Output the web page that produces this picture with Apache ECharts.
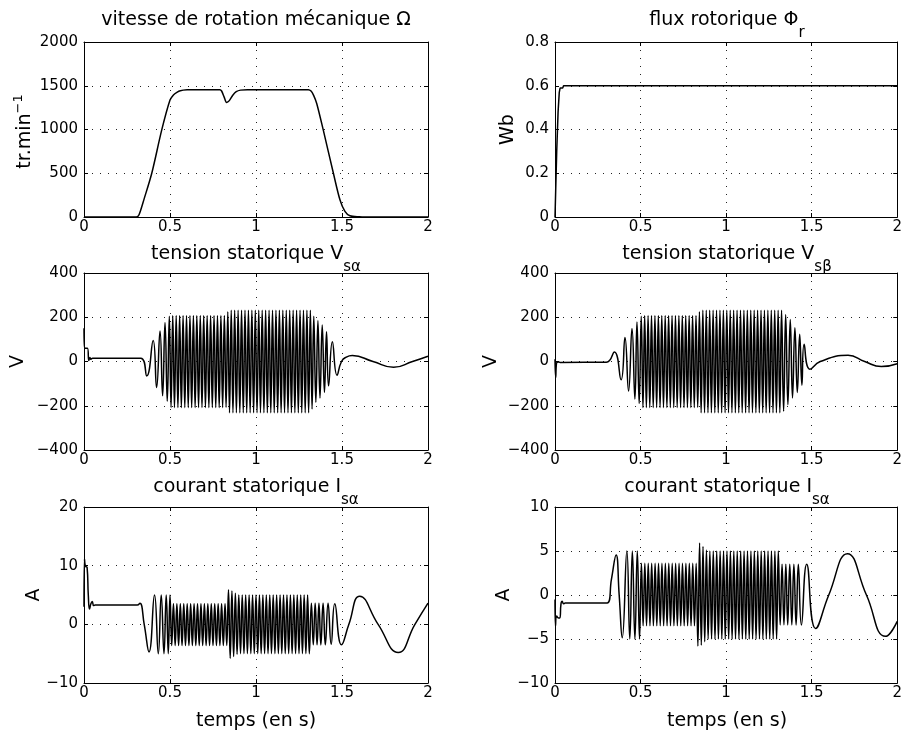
<!DOCTYPE html>
<html><head><meta charset="utf-8">
<script src="https://cdn.jsdelivr.net/npm/echarts@6/dist/echarts.min.js"></script>
<style>html,body{margin:0;padding:0;background:#fff}#c{width:905px;height:737px}</style>
</head><body><div id="c"></div>
<script>
// ---------------- data ----------------
const xTicks = [0, 0.5, 1, 1.5, 2];

// mechanical speed (tr/min)
const speedT = [0,0.305,0.32,0.35,0.394,0.452,0.5,0.52,0.54,0.56,0.6,0.65,0.79,0.8,0.815,0.829,0.845,0.865,0.885,0.91,0.95,1.304,1.32,1.335,1.353,1.391,1.45,1.488,1.517,1.546,1.6,1.64,2];
const speedV = [0,0,25,210,500,995,1336,1395,1425,1443,1453,1455,1455,1440,1370,1310,1330,1392,1432,1450,1455,1455,1440,1390,1298,995,500,197,65,15,2,0,0];

// rotor flux (Wb)
const fluxT = [0,0.004,0.01,0.018,0.025,0.03,0.036,0.04,0.045,0.05,0.06,2];
const fluxV = [0,0.12,0.3,0.48,0.57,0.59,0.592,0.585,0.59,0.6,0.6,0.6];

// stator voltage V_s alpha (extrema and turning points)
const vsaPreT = [0,0.003,0.02,0.028,0.034,0.04,0.05,0.33,0.365,0.402,0.422,0.442,0.457,0.471,0.484,0.496];
const vsaPreV = [150,60,60,5,18,10,15,15,-65,95,-118,138,-155,176,-180,205];
const vsaMidT = [0.506,0.516,0.526,0.536,0.546,0.556,0.566,0.576,0.586,0.596,
0.606,0.616,0.626,0.636,0.646,0.656,0.666,0.676,0.686,0.696,
0.706,0.716,0.726,0.736,0.746,0.756,0.766,0.776,0.786,0.796,
0.806,0.816,0.826,0.836,0.846,0.856,0.866,0.876,0.886,0.896,
0.906,0.916,0.926,0.936,0.946,0.956,0.966,0.976,0.986,0.996,
1.006,1.016,1.026,1.036,1.046,1.056,1.066,1.076,1.086,1.096,
1.106,1.116,1.126,1.136,1.146,1.156,1.166,1.176,1.186,1.196,
1.206,1.216,1.226,1.236,1.246,1.256,1.266,1.276,1.286,1.296,
1.306];
const vsaMidV = [-208,208,-208,208,-208,208,-208,208,-208,208,
-208,208,-208,208,-208,208,-208,208,-208,208,
-208,208,-208,208,-208,208,-208,208,-208,208,
-208,208,-208,225,-232,232,-232,232,-232,232,
-232,232,-232,232,-232,232,-232,232,-232,232,
-232,232,-232,232,-232,232,-232,232,-232,232,
-232,232,-232,232,-232,232,-232,232,-232,232,
-232,232,-232,232,-232,232,-232,232,-232,232,
-232];
const vsaPostT = [1.316,1.326,1.336,1.348,1.36,1.372,1.385,1.398,1.41,1.422,1.444,1.471,1.497,1.525,1.56,1.68,1.8,1.91,2];
const vsaPostV = [232,-215,205,-185,185,-165,165,-140,135,-110,89,-62,0,20,27,0,-26,0,24];

// stator voltage V_s beta
const vsbPreT = [0,0.004,0.009,0.02,0.03,0.3,0.347,0.386,0.409,0.43,0.45,0.467,0.479,0.492,0.504];
const vsbPreV = [10,-72,-6,-2,-4,-3,43,-83,108,-133,149,-170,179,-190,205];
const vsbMidT = [0.514,0.524,0.534,0.544,0.554,0.564,0.574,0.584,0.594,0.604,
0.614,0.624,0.634,0.644,0.654,0.664,0.674,0.684,0.694,0.704,
0.714,0.724,0.734,0.744,0.754,0.764,0.774,0.784,0.794,0.804,
0.814,0.824,0.834,0.844,0.854,0.864,0.874,0.884,0.894,0.904,
0.914,0.924,0.934,0.944,0.954,0.964,0.974,0.984,0.994,1.004,
1.014,1.024,1.034,1.044,1.054,1.064,1.074,1.084,1.094,1.104,
1.114,1.124,1.134,1.144,1.154,1.164,1.174,1.184,1.194,1.204,
1.214,1.224,1.234,1.244,1.254,1.264,1.274,1.284,1.294,1.304,
1.314,1.324];
const vsbMidV = [-208,208,-208,208,-208,208,-208,208,-208,208,
-208,208,-208,208,-208,208,-208,208,-208,208,
-208,208,-208,208,-208,208,-208,208,-208,208,
-208,208,-208,225,-232,232,-232,232,-232,232,
-232,232,-232,232,-232,232,-232,232,-232,232,
-232,232,-232,232,-232,232,-232,232,-232,232,
-232,232,-232,232,-232,232,-232,232,-232,232,
-232,232,-232,232,-232,232,-232,232,-232,232,
-232,232];
const vsbPostT = [1.336,1.348,1.361,1.375,1.388,1.402,1.416,1.43,1.443,1.456,1.49,1.55,1.713,1.81,1.907,2];
const vsbPostV = [-225,212,-195,190,-165,153,-140,123,-107,78,-35,0,28,0,-23,-10];

// stator current I_s alpha (left)
const isaPreT = [0,0.003,0.008,0.018,0.025,0.032,0.04,0.048,0.056,0.065,0.31,0.325,0.35,0.378,0.41,0.432,0.449,0.465,0.478,0.49,0.5];
const isaPreV = [3,11.1,9.9,9.7,5,2.6,3.5,3.9,3.2,3.3,3.3,3.6,0,-4.7,5,-5,5,-5,5,-5,5];
const isaMidT = [0.51,0.52,0.53,0.54,0.55,0.56,0.57,0.58,0.59,0.6,
0.61,0.62,0.63,0.64,0.65,0.66,0.67,0.68,0.69,0.7,
0.71,0.72,0.73,0.74,0.75,0.76,0.77,0.78,0.79,0.8,
0.81,0.82,0.83,0.84,0.85,0.86,0.87,0.88,0.89,0.9,
0.91,0.92,0.93,0.94,0.95,0.96,0.97,0.98,0.99,1.0,
1.01,1.02,1.03,1.04,1.05,1.06,1.07,1.08,1.09,1.1,
1.11,1.12,1.13,1.14,1.15,1.16,1.17,1.18,1.19,1.2,
1.21,1.22,1.23,1.24,1.25,1.26,1.27,1.28,1.29,1.3,
1.31];
const isaMidV = [-3.6,3.5,-3.6,3.5,-3.6,3.5,-3.6,3.5,-3.6,3.5,
-3.6,3.5,-3.6,3.5,-3.6,3.5,-3.6,3.5,-3.6,3.5,
-3.6,3.5,-3.6,3.5,-3.6,3.5,-3.6,3.5,-3.6,3.5,
-3.6,3.5,-3.6,5.9,-5.8,5.7,-5.5,5.3,-5.1,5,
-5,5,-5,5,-5,5,-5,5,-5,5,
-5,5,-5,5,-5,5,-5,5,-5,5,
-5,5,-5,5,-5,5,-5,5,-5,5,
-5,5,-5,5,-5,5,-5,5,-5,5,
-5];
const isaPostT = [1.322,1.333,1.344,1.355,1.366,1.377,1.39,1.403,1.419,1.437,1.458,1.497,1.54,1.603,1.71,1.827,1.924,2];
const isaPostV = [3.6,-3.5,3.6,-3.5,3.6,-3.5,3.6,-3.5,3.6,-3.4,3.5,-3.5,0,4.8,0,-4.8,0,3.6];

// stator current (right panel)
const isbPreT = [0,0.003,0.01,0.02,0.028,0.035,0.042,0.05,0.06,0.305,0.33,0.357,0.375,0.393,0.42,0.437,0.452,0.467,0.481,0.494];
const isbPreV = [-0.5,-3.5,-2.4,-2.6,-2.6,-1,-0.7,-1,-0.9,-0.9,1.8,4.55,0,-4.85,5,-5,5,-5,5,-5];
const isbMidT = [0.505,0.515,0.525,0.535,0.545,0.555,0.565,0.575,0.585,0.595,
0.605,0.615,0.625,0.635,0.645,0.655,0.665,0.675,0.685,0.695,
0.705,0.715,0.725,0.735,0.745,0.755,0.765,0.775,0.785,0.795,
0.805,0.815,0.825,0.835,0.845,0.855,0.865,0.875,0.885,0.895,
0.905,0.915,0.925,0.935,0.945,0.955,0.965,0.975,0.985,0.995,
1.005,1.015,1.025,1.035,1.045,1.055,1.065,1.075,1.085,1.095,
1.105,1.115,1.125,1.135,1.145,1.155,1.165,1.175,1.185,1.195,
1.205,1.215,1.225,1.235,1.245,1.255,1.265,1.275,1.285,1.295,
1.305];
const isbMidV = [3.6,-3.5,3.6,-3.5,3.6,-3.5,3.6,-3.5,3.6,-3.5,
3.6,-3.5,3.6,-3.5,3.6,-3.5,3.6,-3.5,3.6,-3.5,
3.6,-3.5,3.6,-3.5,3.6,-3.5,3.6,-3.5,3.6,-3.5,
3.6,-3.5,3.6,-5.8,5.9,-5.7,5.5,-5.3,5.1,-5,
5,-5,5,-5,5,-5,5,-5,5,-5,
5,-5,5,-5,5,-5,5,-5,5,-5,
5,-5,5,-5,5,-5,5,-5,5,-5,
5,-5,5,-5,5,-5,5,-5,5,-5,
5];
const isbPostT = [1.316,1.327,1.338,1.349,1.36,1.372,1.384,1.396,1.409,1.422,1.44,1.471,1.523,1.6,1.709,1.82,1.932,2];
const isbPostV = [-3.4,3.5,-3.4,3.5,-3.4,3.5,-3.4,3.5,-3.4,3.5,-3.4,3.5,-3.8,0,4.7,0,-4.7,-3];

// text
const titlesMain = ['vitesse de rotation mécanique Ω','flux rotorique Φ','tension statorique V','tension statorique V','courant statorique I','courant statorique I'];
const titlesSub  = ['','r','sα','sβ','sα','sα'];
const yNames = ['tr.min','Wb','V','V','A','A'];
const xName = 'temps (en s)';

// ---------------- build ----------------
function zip(ts, vs){ const out=[]; for(let i=0;i<ts.length;i++) out.push([ts[i], vs[i]]); return out; }
const seriesData = [
  zip(speedT, speedV),
  zip(fluxT, fluxV),
  zip(vsaPreT.concat(vsaMidT, vsaPostT), vsaPreV.concat(vsaMidV, vsaPostV)),
  zip(vsbPreT.concat(vsbMidT, vsbPostT), vsbPreV.concat(vsbMidV, vsbPostV)),
  zip(isaPreT.concat(isaMidT, isaPostT), isaPreV.concat(isaMidV, isaPostV)),
  zip(isbPreT.concat(isbMidT, isbPostT), isbPreV.concat(isbMidV, isbPostV))
];
const yRanges = [[0,2000,500],[0,0.8,0.2],[-400,400,200],[-400,400,200],[-10,20,10],[-10,10,5]];
const smoothing = [0.3, 0, 0.5, 0.5, 0.5, 0.5];

const FONT = 'DejaVu Sans';
const L = [84, 555], W = 344;
const T = [42, 273, 507], H = [175, 177, 176];
const gridBoxes = [];
for (let r=0;r<3;r++) for (let c=0;c<2;c++) gridBoxes.push({left:L[c], top:T[r], width:W, height:H[r]});

function fmt(v){ const s = String(Math.round(v*1000)/1000); return s.replace('-', '\u2212'); }
function lineStyle(){ return {color:'#000', width:1}; }

const grid=[], xAxis=[], yAxis=[], series=[];
const splitSt = {show:true, lineStyle:{color:'#222', width:1, type:[1,7]}};
gridBoxes.forEach((g,i)=>{
  grid.push(Object.assign({containLabel:false}, g));
  const xr = {type:'value', gridIndex:i, min:xTicks[0], max:xTicks[xTicks.length-1], interval:xTicks[1]-xTicks[0]};
  xAxis.push(Object.assign({}, xr, {position:'bottom',
    axisLine:{show:true, onZero:false, lineStyle:lineStyle()},
    axisTick:{show:true, inside:true, length:4, lineStyle:lineStyle()},
    axisLabel:{show:true, margin:3, color:'#000', fontFamily:FONT, fontSize:15, formatter:fmt, showMinLabel:true, showMaxLabel:true},
    splitLine:splitSt}));
  xAxis.push(Object.assign({}, xr, {position:'top',
    axisLine:{show:true, onZero:false, lineStyle:lineStyle()},
    axisTick:{show:true, inside:true, length:4, lineStyle:lineStyle()},
    axisLabel:{show:false}, splitLine:{show:false}}));
  const yr = {type:'value', gridIndex:i, min:yRanges[i][0], max:yRanges[i][1], interval:yRanges[i][2]};
  yAxis.push(Object.assign({}, yr, {position:'left',
    axisLine:{show:true, onZero:false, lineStyle:lineStyle()},
    axisTick:{show:true, inside:true, length:4, lineStyle:lineStyle()},
    axisLabel:{show:true, margin:6, color:'#000', fontFamily:FONT, fontSize:15, formatter:fmt, showMinLabel:true, showMaxLabel:true},
    splitLine:splitSt}));
  yAxis.push(Object.assign({}, yr, {position:'right',
    axisLine:{show:true, onZero:false, lineStyle:lineStyle()},
    axisTick:{show:true, inside:true, length:4, lineStyle:lineStyle()},
    axisLabel:{show:false}, splitLine:{show:false}}));
  series.push({type:'line', xAxisIndex:2*i, yAxisIndex:2*i, data:seriesData[i], showSymbol:false, symbol:'none',
    smooth:smoothing[i] || false, lineStyle:{color:'#000', width:1.5}, silent:true, z:5});
});

// text graphics
const mctx = document.createElement('canvas').getContext('2d');
function tw(s, size){ mctx.font = size + 'px "' + FONT + '"'; return mctx.measureText(s).width; }
function txt(s, x, y, size, align, rot){
  const e = {type:'text', x:x, y:y, silent:true, z:10,
    style:{text:s, fontSize:size, fontFamily:FONT, fill:'#000', textAlign:align||'center', textVerticalAlign:'middle', align:align||'center', verticalAlign:'middle'}};
  if (rot) e.rotation = rot;
  return e;
}
const graphics = [];
const titleCY = [20, 20, 254, 254, 487, 487];
gridBoxes.forEach((g,i)=>{
  const cx = g.left + g.width/2;
  const wm = tw(titlesMain[i], 19), ws = titlesSub[i] ? tw(titlesSub[i], 15) : 0;
  const x0 = cx - (wm + ws)/2;
  graphics.push(txt(titlesMain[i], x0, titleCY[i], 19, 'left'));
  if (titlesSub[i]) graphics.push(txt(titlesSub[i], x0 + wm, titleCY[i] + 13, 15, 'left'));
});
// y names (rotated)
const yNameX = [25.5, 508, 18.5, 491.5, 34.5, 504.5];
gridBoxes.forEach((g,i)=>{
  const cy = g.top + g.height/2;
  if (i === 0) {
    const wm = tw(yNames[0], 19), ws = tw('\u22121', 13);
    const yb = cy + 2 + (wm + ws)/2;
    graphics.push(txt(yNames[0], yNameX[0], yb - wm/2, 19, 'center', Math.PI/2));
    graphics.push(txt('\u22121', yNameX[0] - 7, yb - wm - ws/2, 13, 'center', Math.PI/2));
  } else {
    graphics.push(txt(yNames[i], yNameX[i], cy, 19, 'center', Math.PI/2));
  }
});
graphics.push(txt(xName, gridBoxes[4].left + W/2, 721, 19, 'center'));
graphics.push(txt(xName, gridBoxes[5].left + W/2, 721, 19, 'center'));

const chart = echarts.init(document.getElementById('c'), null, {renderer:'canvas'});
chart.setOption({
  animation:false, backgroundColor:'#fff',
  grid, xAxis, yAxis, series, graphic:{elements:graphics}
});
</script>
</body></html>
